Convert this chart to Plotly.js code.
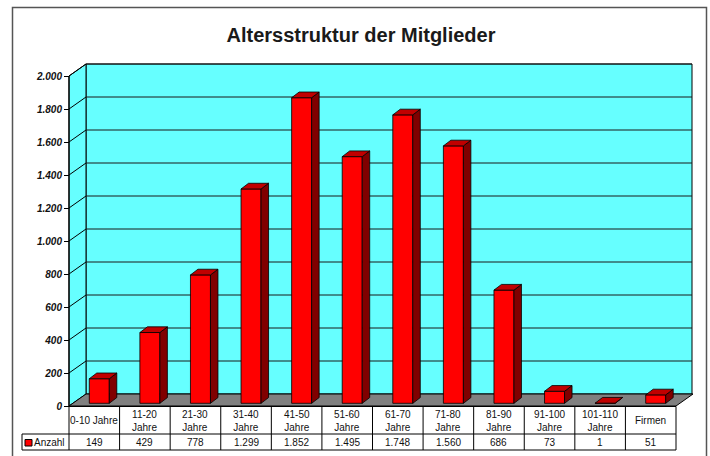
<!DOCTYPE html>
<html>
<head>
<meta charset="utf-8">
<script src="https://cdn.plot.ly/plotly-3.0.1.min.js"></script>
<style>html,body{margin:0;padding:0;background:#fff;}#chart{width:710px;height:456px;}</style>
</head>
<body>
<div id="chart"></div>
<script>
// ---------------- data ----------------
const chartTitle = 'Altersstruktur der Mitglieder';
const seriesName = 'Anzahl';
const categories = ['0-10 Jahre','11-20 Jahre','21-30 Jahre','31-40 Jahre','41-50 Jahre','51-60 Jahre',
                    '61-70 Jahre','71-80 Jahre','81-90 Jahre','91-100 Jahre','101-110 Jahre','Firmen'];
const categoryLabels = ['0-10 Jahre','11-20<br>Jahre','21-30<br>Jahre','31-40<br>Jahre','41-50<br>Jahre','51-60<br>Jahre',
                        '61-70<br>Jahre','71-80<br>Jahre','81-90<br>Jahre','91-100<br>Jahre','101-110<br>Jahre','Firmen'];
const values = [149, 429, 778, 1299, 1852, 1495, 1748, 1560, 686, 73, 1, 51];
const yTickVals = [0, 200, 400, 600, 800, 1000, 1200, 1400, 1600, 1800, 2000];
const yTickText = ['0','200','400','600','800','1.000','1.200','1.400','1.600','1.800','2.000'];

// ---------------- geometry (pixels) ----------------
const W = 710, H = 456;
const PL = 69, PR = 676;          // front edge of the category band
const Y0 = 406, YMAXPX = 76;      // pixel rows of 0 and 2000 on the front axis
const YMAX = 2000;
const BACK_DX = 17, BACK_DY = 12; // depth of the 3D box
const BAR_FX = 3.8, BAR_FY = 2.7; // bar front offset into depth
const BAR_DX = 7.5, BAR_DY = 5.7; // bar depth
const BAR_W = 20, BAR_SHIFT = 1.2;

const n = categories.length;
const ux = n / (PR - PL);                 // data units per px (x)
const uy = YMAX / (Y0 - YMAXPX);          // data units per px (y)
const xd = p => -0.5 + (p - PL) * ux;
const yd = q => (Y0 - q) * uy;
const pxp = p => p / W;                   // px -> paper
const pyp = q => 1 - q / H;

const fmt = v => String(v).replace(/\B(?=(\d{3})+(?!\d))/g, '.');
const FONT = 'Liberation Sans, Arial, Helvetica, sans-serif';
const TFS = 10;

// ---------------- bars ----------------
const xs = categories.map((c, i) => i);
const base = BAR_FY * uy;
const offset = (BAR_FX + BAR_SHIFT - BAR_W / 2) * ux;
const barW = BAR_W * ux;
const dbx = BAR_DX * ux, dby = BAR_DY * uy;

const sideX = [], sideY = [], topX = [], topY = [];
values.forEach((v, i) => {
  const xl = i + offset, xr = xl + barW;
  const yb = base, yt = base + v;
  sideX.push(xr, xr + dbx, xr + dbx, xr, xr, null);
  sideY.push(yb, yb + dby, yt + dby, yt, yb, null);
  topX.push(xl, xr, xr + dbx, xl + dbx, xl, null);
  topY.push(yt, yt, yt + dby, yt + dby, yt, null);
});

const traces = [
  {type: 'bar', name: seriesName, x: xs, y: values, base: values.map(() => base),
   width: values.map(() => barW), offset: values.map(() => offset),
   marker: {color: '#FF0000', line: {color: '#000000', width: 0.8}}, hoverinfo: 'skip', showlegend: false},
  {type: 'scatter', mode: 'lines', x: sideX, y: sideY, fill: 'toself', fillcolor: '#800000',
   line: {color: '#000000', width: 0.8}, hoverinfo: 'skip', showlegend: false},
  {type: 'scatter', mode: 'lines', x: topX, y: topY, fill: 'toself', fillcolor: '#C00000',
   line: {color: '#000000', width: 0.8}, hoverinfo: 'skip', showlegend: false}
];

// ---------------- walls, floor, gridlines ----------------
const bdx = BACK_DX * ux, bdy = BACK_DY * uy;
const xF = xd(PL), xB = xd(PL + BACK_DX), xBR = xd(692), xFR = xd(PR);
const shapes = [];
shapes.push({type: 'rect', xref: 'x', yref: 'y', x0: xB, x1: xBR, y0: bdy, y1: YMAX + bdy,
  fillcolor: '#66FFFF', line: {color: '#000', width: 1}, layer: 'below'});
shapes.push({type: 'path', xref: 'x', yref: 'y', layer: 'below',
  path: `M${xF},0 L${xF},${YMAX} L${xB},${YMAX + bdy} L${xB},${bdy} Z`,
  fillcolor: '#66FFFF', line: {color: '#000', width: 1}});
shapes.push({type: 'path', xref: 'x', yref: 'y', layer: 'below',
  path: `M${xF},0 L${xFR},0 L${xd(PR + BACK_DX)},${bdy} L${xB},${bdy} Z`,
  fillcolor: '#808080', line: {color: '#000', width: 1}});
yTickVals.forEach(t => {
  if (t > 0) {
    shapes.push({type: 'line', xref: 'x', yref: 'y', layer: 'below', x0: xB, x1: xBR, y0: t + bdy, y1: t + bdy,
      line: {color: '#1a1a1a', width: 1}});
    shapes.push({type: 'line', xref: 'x', yref: 'y', layer: 'below', x0: xF, x1: xB, y0: t, y1: t + bdy,
      line: {color: '#000', width: 1}});
  }
});
shapes.push({type: 'line', xref: 'x', yref: 'y', x0: xF, x1: xF, y0: 0, y1: YMAX, line: {color: '#000', width: 1.2}});

// ---------------- data table ----------------
const T0 = 406.5, T1 = 434, T2 = 450, LEG = 22;
const lineStyle = {color: '#000', width: 1};
shapes.push({type: 'line', xref: 'x', yref: 'paper', x0: xF, x1: xFR, y0: pyp(T0), y1: pyp(T0), line: lineStyle});
shapes.push({type: 'line', xref: 'paper', yref: 'paper', x0: pxp(LEG), x1: pxp(PR), y0: pyp(T1), y1: pyp(T1), line: lineStyle});
shapes.push({type: 'line', xref: 'paper', yref: 'paper', x0: pxp(LEG), x1: pxp(PR), y0: pyp(T2), y1: pyp(T2), line: lineStyle});
shapes.push({type: 'line', xref: 'paper', yref: 'paper', x0: pxp(LEG), x1: pxp(LEG), y0: pyp(T1), y1: pyp(T2), line: lineStyle});
for (let i = 0; i <= n; i++) {
  shapes.push({type: 'line', xref: 'x', yref: 'paper', x0: i - 0.5, x1: i - 0.5, y0: pyp(T0), y1: pyp(T2), line: lineStyle});
}
shapes.push({type: 'rect', xref: 'paper', yref: 'paper', x0: pxp(25), x1: pxp(32), y0: pyp(446), y1: pyp(439.5),
  fillcolor: '#FF0000', line: {color: '#000', width: 1}});
shapes.push({type: 'rect', xref: 'paper', yref: 'paper', x0: pxp(12.5), x1: pxp(706.5), y0: pyp(475), y1: pyp(7.5),
  fillcolor: 'rgba(0,0,0,0)', line: {color: '#555', width: 1.5}});

const annotations = [];
categoryLabels.forEach((lab, i) => {
  annotations.push({xref: 'x', yref: 'paper', x: i, y: pyp((T0 + T1) / 2 + 0.5), text: lab, showarrow: false,
    xanchor: 'center', yanchor: 'middle', align: 'center', font: {family: FONT, size: TFS, color: '#111'}});
});
values.forEach((v, i) => {
  annotations.push({xref: 'x', yref: 'paper', x: i, y: pyp((T1 + T2) / 2 + 0.5), text: fmt(v), showarrow: false,
    xanchor: 'center', yanchor: 'middle', font: {family: FONT, size: TFS, color: '#111'}});
});
annotations.push({xref: 'paper', yref: 'paper', x: pxp(32), y: pyp((T1 + T2) / 2 + 0.5), text: seriesName, showarrow: false,
  xanchor: 'left', yanchor: 'middle', font: {family: FONT, size: TFS, color: '#111'}});

const layout = {
  width: W, height: H,
  margin: {l: 0, r: 0, t: 0, b: 0, pad: 0},
  paper_bgcolor: '#ffffff', plot_bgcolor: 'rgba(0,0,0,0)',
  showlegend: false,
  title: {text: '<b>' + chartTitle + '</b>', xref: 'paper', yref: 'paper', x: 361 / W, xanchor: 'center',
    y: pyp(35), yanchor: 'middle', font: {family: FONT, size: 20, color: '#1a1a1a'}},
  xaxis: {range: [xd(0), xd(W)], visible: false, fixedrange: true},
  yaxis: {range: [yd(H), yd(0)], anchor: 'free', position: pxp(PL), side: 'left',
    tickmode: 'array', tickvals: yTickVals, ticktext: yTickText,
    ticks: 'outside', ticklen: 5, tickcolor: '#000', tickwidth: 1,
    showgrid: false, zeroline: false, showline: false,
    tickfont: {family: FONT, size: 10, color: '#111', weight: 'bold', style: 'italic'}},
  shapes: shapes,
  annotations: annotations
};

Plotly.newPlot('chart', traces, layout, {staticPlot: true, displayModeBar: false});
</script>
</body>
</html>
